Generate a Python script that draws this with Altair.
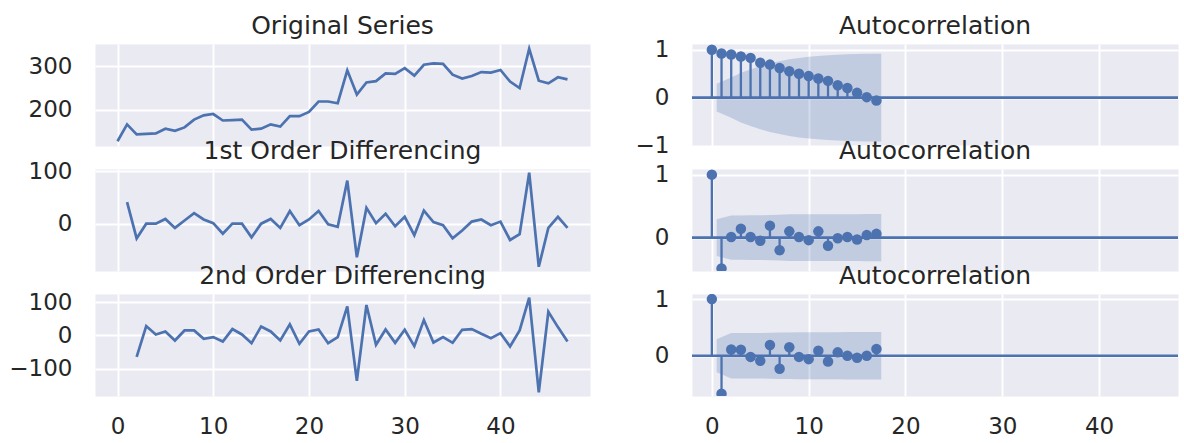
import altair as alt
import pandas as pd

# ---- data ----
orig = [127, 166, 143, 144, 145, 156, 151, 159, 177, 187, 190, 175, 176, 177, 154, 156,
        166, 161, 185, 185, 195, 219, 219, 215, 291, 235, 263, 266, 284, 283, 296, 279,
        304, 307, 306, 281, 272, 278, 287, 286, 292, 265, 250, 341, 267, 261, 275, 270]
diff1 = [41, -28, 0, 0, 9, -8, 6, 20, 8, 1, -19, 0, 0, -26, 0, 9, -8, 24, -3, 8, 24, -1,
         -6, 82, -64, 30, 1, 19, -5, 13, -22, 25, 3, -3, -28, -13, 4, 8, -3, 4, -31, -20,
         97, -82, -8, 13, -8]
diff2 = [-64, 28, 3, 12, -15, 15, 15, -10, -5, -18, 19, 3, -23, 27, 12, -15, 33, -25, 12,
         18, -23, -5, 87, -136, 91, -28, 18, -22, 17, -32, 46, -21, -5, -22, 17, 19, 5, -8,
         7, -33, 15, 113, -170, 71, 25, -18]

acf_orig = [1.0, 0.92, 0.90, 0.86, 0.83, 0.73, 0.69, 0.62, 0.55, 0.50, 0.45, 0.40, 0.35,
            0.26, 0.20, 0.10, 0.01, -0.06]
acf_d1 = [1.0, -0.49, 0.01, 0.14, 0.01, -0.05, 0.19, -0.20, 0.10, 0.01, -0.04, 0.10, -0.13,
          -0.01, 0.01, -0.03, 0.04, 0.06]
acf_d2 = [1.0, -0.67, 0.11, 0.105, -0.02, -0.09, 0.19, -0.23, 0.15, -0.02, -0.06, 0.09, -0.10,
          0.06, 0.0, -0.035, 0.0, 0.12]

conf_orig = [0.29, 0.42, 0.52, 0.59, 0.66, 0.72, 0.76, 0.80, 0.83, 0.855, 0.87, 0.885, 0.895,
             0.905, 0.91, 0.915, 0.915]
conf_d1 = [0.29, 0.35, 0.35, 0.355, 0.355, 0.36, 0.365, 0.37, 0.37, 0.37, 0.37, 0.372, 0.372,
           0.373, 0.373, 0.374, 0.375]
conf_d2 = [0.29, 0.40, 0.40, 0.40, 0.40, 0.405, 0.41, 0.41, 0.415, 0.415, 0.415, 0.415, 0.415,
           0.42, 0.42, 0.42, 0.42]

titles_left = ["Original Series", "1st Order Differencing", "2nd Order Differencing"]
title_right = "Autocorrelation"
x_ticks = [0, 10, 20, 30, 40]

BLUE = "#4C72B0"
INK = "#262626"
LW, RW, H = 495, 486, 102
LX = [-2.35, 49.35]
RX = [-2.05, 48.15]


def title_layer(text, width):
    return alt.Chart(pd.DataFrame({"label": [text]})).mark_text(
        font="DejaVu Sans", fontSize=25, color=INK, align="center", baseline="alphabetic"
    ).encode(text="label:N", x=alt.value(width / 2), y=alt.value(-10))


def left_panel(values, start, title, ydom, yticks, show_x):
    df = pd.DataFrame({"t": list(range(start, start + len(values))), "v": values})
    line = alt.Chart(df).mark_line(color=BLUE, strokeWidth=2.7, clip=True).encode(
        x=alt.X("t:Q", title=None, scale=alt.Scale(domain=LX, nice=False, zero=False),
                axis=alt.Axis(values=x_ticks, labels=show_x)),
        y=alt.Y("v:Q", title=None, scale=alt.Scale(domain=ydom, nice=False, zero=False),
                axis=alt.Axis(values=yticks)),
    )
    return alt.layer(line, title_layer(title, LW)).properties(width=LW, height=H)


def acf_panel(acf, conf, ydom, yticks, show_x):
    lags = list(range(len(acf)))
    df = pd.DataFrame({"lag": lags, "acf": acf, "zero": [0.0] * len(acf)})
    bx = [float(l) for l in range(1, len(acf))]
    bx[0] -= 0.5
    bx[-1] += 0.5
    band = pd.DataFrame({"lag": bx, "lo": [-c for c in conf], "hi": conf})
    xs = alt.Scale(domain=RX, nice=False, zero=False)
    ys = alt.Scale(domain=ydom, nice=False, zero=False)
    b = alt.Chart(band).mark_area(color=BLUE, opacity=0.25, clip=True).encode(
        x=alt.X("lag:Q", title=None, scale=xs, axis=alt.Axis(values=x_ticks, labels=show_x)),
        y=alt.Y("lo:Q", title=None, scale=ys, axis=alt.Axis(values=yticks, format="d")),
        y2="hi:Q",
    )
    z = alt.Chart(pd.DataFrame({"z": [0.0]})).mark_rule(color=BLUE, strokeWidth=2.6).encode(
        y=alt.Y("z:Q", title=None)
    )
    s = alt.Chart(df).mark_rule(color=BLUE, strokeWidth=2.3, clip=True).encode(
        x=alt.X("lag:Q", title=None), y=alt.Y("zero:Q", title=None), y2="acf:Q"
    )
    p = alt.Chart(df).mark_circle(color=BLUE, size=110, opacity=1, clip=True).encode(
        x=alt.X("lag:Q", title=None), y=alt.Y("acf:Q", title=None)
    )
    return alt.layer(b, z, s, p, title_layer(title_right, RW)).properties(width=RW, height=H)


L1 = left_panel(orig, 0, titles_left[0], [116, 352], [200, 300], False)
L2 = left_panel(diff1, 1, titles_left[1], [-90, 104], [0, 100], False)
L3 = left_panel(diff2, 2, titles_left[2], [-181, 124], [-100, 0, 100], True)
R1 = acf_panel(acf_orig, conf_orig, [-1.01, 1.12], [-1, 0, 1], False)
R2 = acf_panel(acf_d1, conf_d1, [-0.53, 1.09], [0, 1], False)
R3 = acf_panel(acf_d2, conf_d2, [-0.71, 1.09], [0, 1], True)

chart = alt.concat(
    L1, R1, L2, R2, L3, R3, columns=2, bounds="flush",
    spacing=alt.RowColnumber(row=23, column=102),
).properties(
    padding={"left": 8, "top": 13, "right": 0, "bottom": 2}
).configure_view(
    fill="#EAEAF2", stroke="transparent"
).configure_axis(
    grid=True, gridColor="white", gridWidth=2, domain=False, ticks=False,
    labelFont="DejaVu Sans", labelFontSize=23, labelColor=INK,
    labelPadding=23, labelFlush=False,
).configure_axisX(
    labelPadding=19
)

chart.save("out.html", embed_options={"renderer": "svg", "actions": False})
